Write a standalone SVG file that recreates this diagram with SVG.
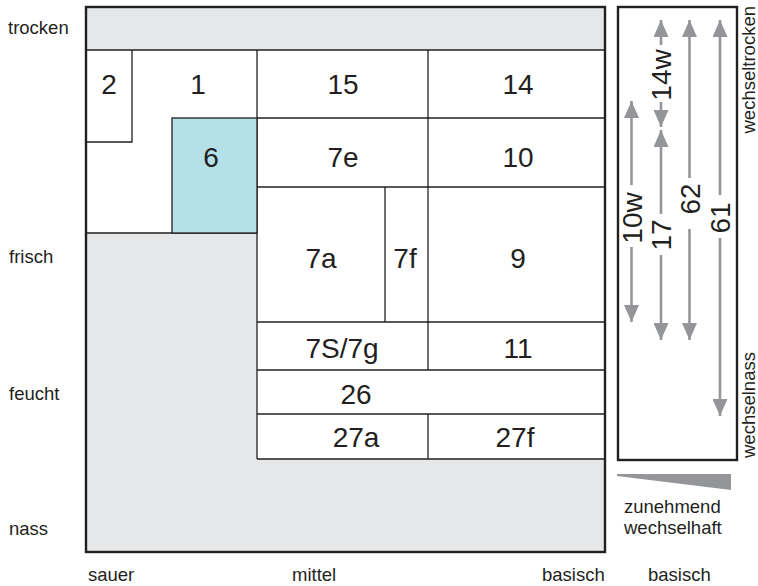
<svg xmlns="http://www.w3.org/2000/svg" width="758" height="586" viewBox="0 0 758 586">
<style>
  text { font-family: "Liberation Sans", Arial, sans-serif; fill: #231f20; }
  .side { font-size: 18.5px; }
  .num { font-size: 28px; text-anchor: middle; }
  .thin { stroke: #231f20; stroke-width: 1.3; fill: none; }
  .arrow { stroke: #939598; stroke-width: 2.6; fill: none; }
</style>
<defs>
  <marker id="ah" markerUnits="userSpaceOnUse" markerWidth="18" markerHeight="15" refX="17" refY="7.5" orient="auto">
    <path d="M0,0 L17,7.5 L0,15 z" fill="#939598"/>
  </marker>
</defs>
<rect width="758" height="586" fill="#ffffff"/>

<g id="frame">
  <rect x="86" y="7" width="519" height="545" fill="#e6e7e8"/>
  <rect x="86" y="50" width="519" height="183" fill="#ffffff"/>
  <rect x="257" y="233" width="348" height="226" fill="#ffffff"/>
</g>

<g id="grid" class="thin">
  <line x1="86" y1="50" x2="605" y2="50"/>
  <polyline points="132,50 132,142 86,142"/>
  <line x1="86" y1="233" x2="257" y2="233"/>
  <line x1="257" y1="50" x2="257" y2="459"/>
  <line x1="428" y1="50" x2="428" y2="370"/>
  <line x1="428" y1="414" x2="428" y2="459"/>
  <line x1="257" y1="118" x2="605" y2="118"/>
  <line x1="257" y1="187" x2="605" y2="187"/>
  <line x1="385" y1="187" x2="385" y2="322"/>
  <line x1="257" y1="322" x2="605" y2="322"/>
  <line x1="257" y1="370" x2="605" y2="370"/>
  <line x1="257" y1="414" x2="605" y2="414"/>
  <line x1="257" y1="459" x2="605" y2="459"/>
</g>

<g id="n6">
  <rect x="172" y="118" width="85" height="115" fill="#b6e0e7" stroke="#231f20" stroke-width="1.3"/>
  <text class="num" x="211" y="167">6</text>
</g>
<g id="n2"><text class="num" x="109" y="94">2</text></g>
<g id="n1"><text class="num" x="198" y="94">1</text></g>
<g id="n15"><text class="num" x="343" y="94">15</text></g>
<g id="n14"><text class="num" x="518" y="94">14</text></g>
<g id="n7e"><text class="num" x="343" y="167">7e</text></g>
<g id="n10"><text class="num" x="518" y="167">10</text></g>
<g id="n7a"><text class="num" x="321" y="268">7a</text></g>
<g id="n7f"><text class="num" x="405" y="268">7f</text></g>
<g id="n9"><text class="num" x="518" y="268">9</text></g>
<g id="n7S7g"><text class="num" x="342" y="358">7S/7g</text></g>
<g id="n11"><text class="num" x="518" y="358">11</text></g>
<g id="n26"><text class="num" x="356" y="404">26</text></g>
<g id="n27a"><text class="num" x="356" y="447">27a</text></g>
<g id="n27f"><text class="num" x="515" y="447">27f</text></g>

<rect id="frame-border" x="86" y="7" width="519" height="545" fill="none" stroke="#231f20" stroke-width="2.4"/>

<g id="axis-labels" class="side">
  <text x="8" y="34">trocken</text>
  <text x="9" y="263">frisch</text>
  <text x="9" y="400">feucht</text>
  <text x="9" y="535">nass</text>
  <text x="88" y="581">sauer</text>
  <text x="292" y="581">mittel</text>
  <text x="542" y="581">basisch</text>
  <text x="648" y="581">basisch</text>
</g>

<g id="panel">
  <rect x="618" y="7" width="119" height="453" fill="#ffffff" stroke="#231f20" stroke-width="2.4"/>
  <text class="side" transform="translate(755,6) rotate(-90)" text-anchor="end">wechseltrocken</text>
  <text class="side" transform="translate(755,458) rotate(-90)">wechselnass</text>
  <polygon points="617,474 731,474 731,490 617,476" fill="#939598"/>
  <text class="side" x="624" y="513">zunehmend</text>
  <text class="side" x="624" y="534">wechselhaft</text>
</g>

<g id="connectors" class="arrow">
  <line x1="631.5" y1="185" x2="631.5" y2="101" marker-end="url(#ah)"/>
  <line x1="631.5" y1="247" x2="631.5" y2="322" marker-end="url(#ah)"/>
  <line x1="661" y1="45" x2="661" y2="20" marker-end="url(#ah)"/>
  <line x1="661" y1="102" x2="661" y2="127" marker-end="url(#ah)"/>
  <line x1="661" y1="214" x2="661" y2="130" marker-end="url(#ah)"/>
  <line x1="661" y1="255" x2="661" y2="340" marker-end="url(#ah)"/>
  <line x1="689.5" y1="178" x2="689.5" y2="20" marker-end="url(#ah)"/>
  <line x1="689.5" y1="229" x2="689.5" y2="340" marker-end="url(#ah)"/>
  <line x1="720" y1="195" x2="720" y2="20" marker-end="url(#ah)"/>
  <line x1="720" y1="238" x2="720" y2="416" marker-end="url(#ah)"/>
</g>

<g id="arrow-labels">
  <text class="num" transform="translate(642,218) rotate(-90)">10w</text>
  <text class="num" transform="translate(671,75) rotate(-90)">14w</text>
  <text class="num" transform="translate(671,235) rotate(-90)">17</text>
  <text class="num" transform="translate(700,199) rotate(-90)">62</text>
  <text class="num" transform="translate(730,218) rotate(-90)">61</text>
</g>
</svg>
